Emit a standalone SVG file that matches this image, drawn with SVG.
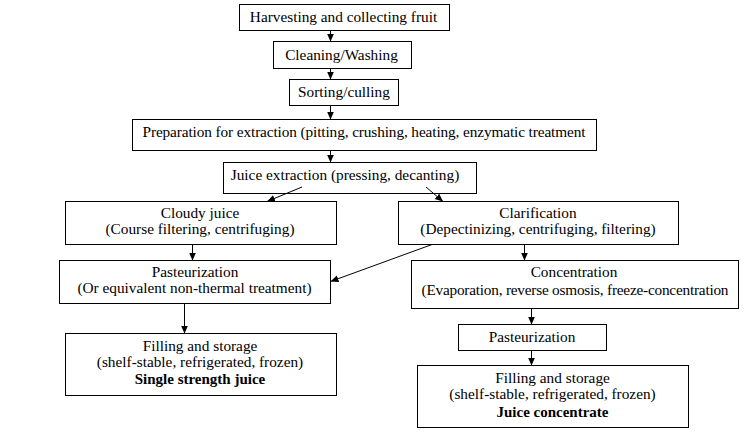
<svg xmlns="http://www.w3.org/2000/svg" width="746" height="441" viewBox="0 0 746 441">
<style>
rect{fill:#fff;stroke:#000;stroke-width:1}
text{font-family:"Liberation Serif","Times New Roman","DejaVu Serif",serif;font-size:15.3px;fill:#000;text-anchor:middle}
.b{font-weight:bold;font-size:15px}
.s{text-anchor:start}
#connectors line{stroke:#000;stroke-width:1;marker-end:url(#ah)}
</style>
<defs>
<marker id="ah" markerUnits="userSpaceOnUse" markerWidth="9" markerHeight="8" refX="8" refY="3.5" orient="auto"><path d="M0,0 L8,3.5 L0,7 z" fill="#000"/></marker>
</defs>
<rect x="0" y="0" width="746" height="441" style="stroke:none"/>
<g id="n1"><rect x="239.5" y="4.5" width="210" height="26"/><text x="343.5" y="22">Harvesting and collecting fruit</text></g>
<g id="n2"><rect x="273.5" y="41.5" width="138" height="27"/><text x="341.5" y="60">Cleaning/Washing</text></g>
<g id="n3"><rect x="289.5" y="79.5" width="109" height="26"/><text x="344" y="97">Sorting/culling</text></g>
<g id="n4"><rect x="132.5" y="119.5" width="464" height="31"/><text class="s" x="142.5" y="137" textLength="443" lengthAdjust="spacing">Preparation for extraction (pitting, crushing, heating, enzymatic treatment</text></g>
<g id="n5"><rect x="223.5" y="162.5" width="253" height="31"/><text x="345" y="180">Juice extraction (pressing, decanting)</text></g>
<g id="n6"><rect x="65.5" y="201.5" width="271" height="43"/><text x="200" y="218">Cloudy juice</text><text x="200" y="234">(Course filtering, centrifuging)</text></g>
<g id="n7"><rect x="398.5" y="201.5" width="280" height="43"/><text x="538" y="218">Clarification</text><text x="538" y="234">(Depectinizing, centrifuging, filtering)</text></g>
<g id="n8"><rect x="59.5" y="260.5" width="271" height="43"/><text x="195" y="277">Pasteurization</text><text x="194.5" y="293">(Or equivalent non-thermal treatment)</text></g>
<g id="n9"><rect x="411.5" y="260.5" width="327" height="48"/><text x="574" y="277">Concentration</text><text class="s" x="421.5" y="295" textLength="307" lengthAdjust="spacing">(Evaporation, reverse osmosis, freeze-concentration</text></g>
<g id="n10"><rect x="65.5" y="333.5" width="271" height="62"/><text x="200" y="351">Filling and storage</text><text x="200" y="367">(shelf-stable, refrigerated, frozen)</text><text class="b" x="200" y="384">Single strength juice</text></g>
<g id="n11"><rect x="458.5" y="324.5" width="148" height="26"/><text x="532" y="342">Pasteurization</text></g>
<g id="n12"><rect x="417.5" y="365.5" width="271" height="62"/><text x="552.5" y="383">Filling and storage</text><text x="552.5" y="399">(shelf-stable, refrigerated, frozen)</text><text class="b" x="552.5" y="417">Juice concentrate</text></g>
<g id="connectors">
<line x1="330.5" y1="30.5" x2="330.5" y2="41.5"/>
<line x1="330.5" y1="68.5" x2="330.5" y2="79.5"/>
<line x1="330.5" y1="105.5" x2="330.5" y2="119.5"/>
<line x1="330.5" y1="150.5" x2="330.5" y2="162.5"/>
<line x1="302" y1="187" x2="267" y2="201.5"/>
<line x1="426" y1="187" x2="443" y2="201.5"/>
<line x1="192.5" y1="244.5" x2="192.5" y2="260.5"/>
<line x1="432" y1="244.5" x2="330.5" y2="281.5"/>
<line x1="524.5" y1="244.5" x2="524.5" y2="260.5"/>
<line x1="184.5" y1="303.5" x2="184.5" y2="333.5"/>
<line x1="531.5" y1="308.5" x2="531.5" y2="324.5"/>
<line x1="531.5" y1="350.5" x2="531.5" y2="365.5"/>
</g>
</svg>
